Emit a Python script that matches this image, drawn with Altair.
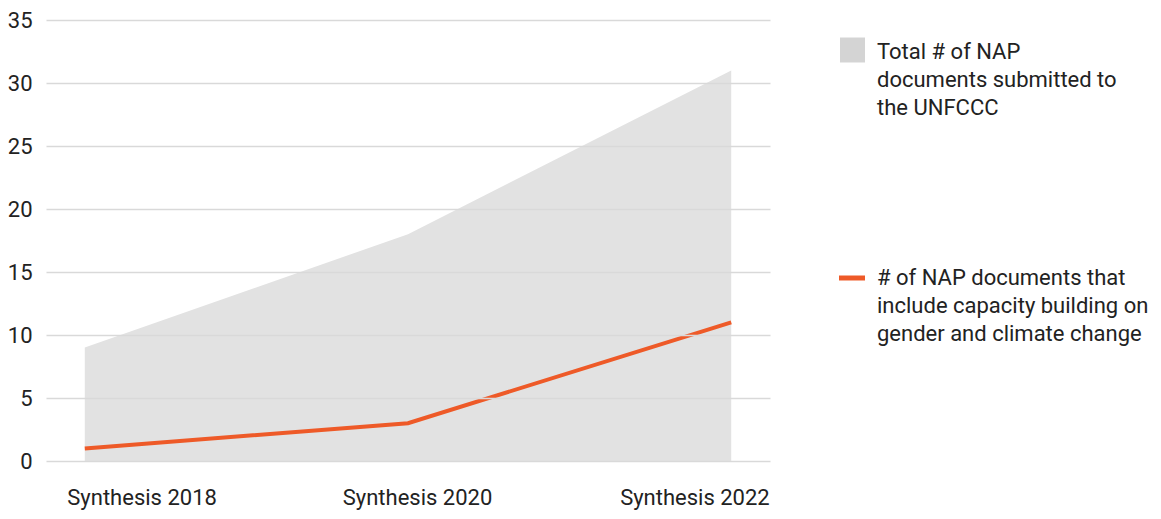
import altair as alt
import pandas as pd

categories = ["Synthesis 2018", "Synthesis 2020", "Synthesis 2022"]
total_naps = [9, 18, 31]
gender_capacity = [1, 3, 11]
y_ticks = [0, 5, 10, 15, 20, 25, 30, 35]
legend_total = "Total # of NAP\ndocuments submitted to\nthe UNFCCC"
legend_gender = "# of NAP documents that\ninclude capacity building on\ngender and climate change"

FONT = "Roboto"
GREY = "#e2e2e2"
LEG_GREY = "#d4d4d4"
ORANGE = "#ee5a28"
TEXT = "#222222"

df = pd.DataFrame({"category": categories, "total": total_naps, "gender": gender_capacity})

x_axis = alt.Axis(
    title=None, domain=False, ticks=False, tickSize=0, grid=False, labelAngle=0,
    labelFont=FONT, labelFontSize=22, labelColor=TEXT,
    labelPadding=43, labelBaseline="alphabetic",
    labelAlign={"condition": [
        {"test": "datum.value === 'Synthesis 2018'", "value": "left"},
        {"test": "datum.value === 'Synthesis 2022'", "value": "right"}],
        "value": "center"},
    labelOffset={"condition": [
        {"test": "datum.value === 'Synthesis 2018'", "value": -18},
        {"test": "datum.value === 'Synthesis 2022'", "value": 38}],
        "value": 9},
)
y_axis = alt.Axis(
    title=None, values=y_ticks, domain=False, ticks=False, tickSize=0,
    labelFont=FONT, labelFontSize=22, labelColor=TEXT, labelPadding=14,
    grid=True, gridColor="#d9d9d9", gridWidth=1.5, zindex=1,
)

x_enc = alt.X("category:N", sort=categories,
              scale=alt.Scale(type="point", padding=0.12), axis=x_axis)
y_scale = alt.Scale(domain=[0, 35], nice=False, zero=True)

area = alt.Chart(df).mark_area(color=GREY, opacity=1).encode(
    x=x_enc,
    y=alt.Y("total:Q", scale=y_scale, axis=y_axis),
)
line = alt.Chart(df).mark_line(color=ORANGE, strokeWidth=4).encode(
    x=x_enc,
    y=alt.Y("gender:Q", scale=y_scale, axis=y_axis),
)

leg_sq = alt.Chart(pd.DataFrame({"label": [legend_total]})).mark_square(
    size=625, color=LEG_GREY, opacity=1
).encode(x=alt.value(806.5), y=alt.value(30))
leg_rule = alt.Chart(pd.DataFrame({"label": [legend_gender]})).mark_rule(
    color=ORANGE, strokeWidth=5
).encode(x=alt.value(793), x2=alt.value(819), y=alt.value(258))

text_props = dict(align="left", baseline="alphabetic", lineBreak="\n", lineHeight=28,
                  fontSize=22, font=FONT, color=TEXT)
leg_t1 = alt.Chart(pd.DataFrame({"label": [legend_total]})).mark_text(**text_props).encode(
    x=alt.value(831), y=alt.value(39), text="label:N")
leg_t2 = alt.Chart(pd.DataFrame({"label": [legend_gender]})).mark_text(**text_props).encode(
    x=alt.value(831), y=alt.value(265), text="label:N")

chart = alt.layer(area, line, leg_sq, leg_rule, leg_t1, leg_t2).properties(
    width=724, height=441,
    padding={"left": 38, "top": 12, "right": 383, "bottom": 50},
    autosize=alt.AutoSizeParams(type="none"),
).configure(font=FONT, view=alt.ViewConfig(stroke=None))

chart.save("out.html", embed_options={"renderer": "svg", "actions": False})
